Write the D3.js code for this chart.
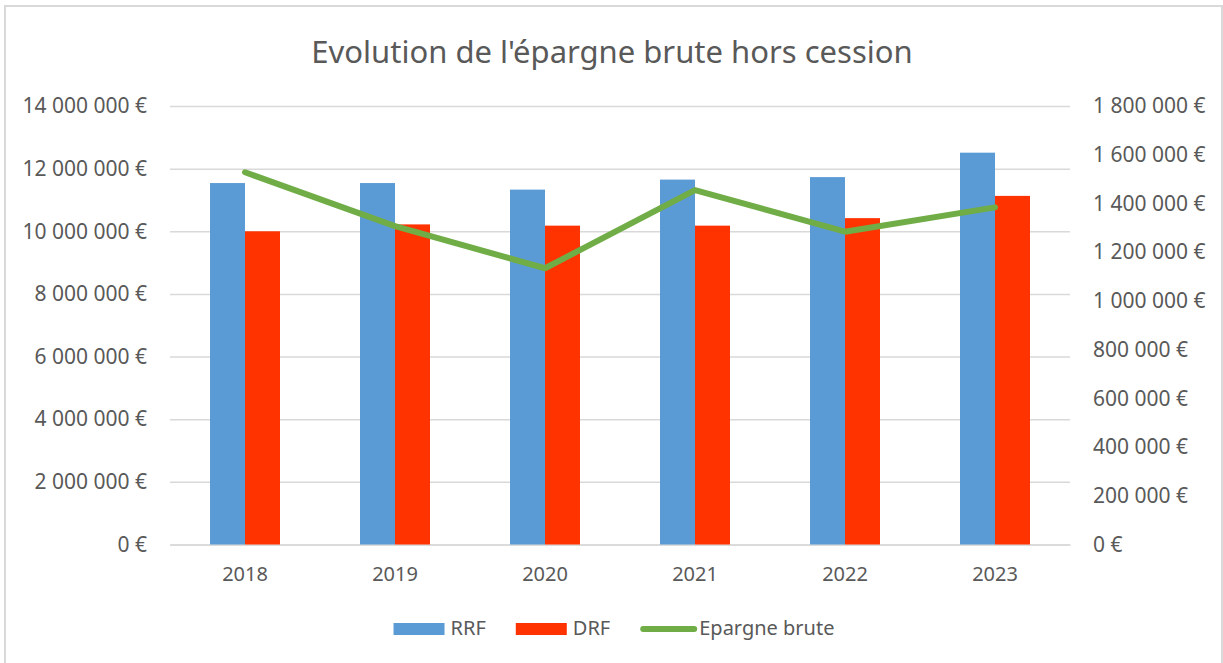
<!DOCTYPE html>
<html>
<head>
<meta charset="utf-8">
<script src="https://cdn.jsdelivr.net/npm/d3@7"></script>
<style>
  body { margin: 0; background: #fff; }
  svg text { font-family: "Noto Sans", sans-serif; fill: #595959; }
</style>
</head>
<body>
<svg id="chart"></svg>
<script>
// values
let years = ['2018', '2019', '2020', '2021', '2022', '2023']
let rrf = [11540000, 11540000, 11330000, 11650000, 11730000, 12510000]
let drf = [10000000, 10220000, 10180000, 10180000, 10420000, 11130000]
let epargne = [1528000, 1307000, 1134000, 1455000, 1284000, 1384000]
let leftTicks = [0, 2e6, 4e6, 6e6, 8e6, 10e6, 12e6, 14e6]
let rightTicks = [0, 2e5, 4e5, 6e5, 8e5, 1e6, 1.2e6, 1.4e6, 1.6e6, 1.8e6]

let width = 1223
let height = 663
let plotLeft = 170, plotRight = 1070, plotTop = 106, plotBottom = 544.5

let svg = d3.select('#chart').attr('width', width).attr('height', height)

let fr = d3.formatLocale({decimal: ',', thousands: '\u00a0', grouping: [3], currency: ['', '\u00a0€']})
let fmt = fr.format('$,.0f')

let xScale, x1, yLeft, yRight

function drawScale(){
    xScale = d3.scaleBand().domain(years).range([plotLeft, plotRight])
    x1 = d3.scaleBand().domain(['RRF', 'DRF']).range([0, 70])
    yLeft = d3.scaleLinear().domain([0, 14e6]).range([plotBottom, plotTop])
    yRight = d3.scaleLinear().domain([0, 1.8e6]).range([plotBottom, plotTop])
}

function drawFrame(){
    svg.append('rect').attr('x', 5).attr('y', 6).attr('width', 1217).attr('height', 670)
        .attr('fill', 'none').attr('stroke', '#d9d9d9').attr('stroke-width', 2)
    svg.append('text').attr('x', 612).attr('y', 63).attr('text-anchor', 'middle')
        .style('font-size', '31px').text("Evolution de l'épargne brute hors cession")
}

function drawAxis(){
    // gridlines
    svg.append('g').attr('class', 'grid').attr('transform', 'translate(' + plotLeft + ',0)')
        .call(d3.axisLeft(yLeft).tickValues(leftTicks).tickSize(-(plotRight - plotLeft)).tickFormat(''))
        .call(g => g.select('.domain').remove())
        .call(g => g.selectAll('line').attr('stroke', '#d9d9d9').attr('stroke-width', 1.5))

    let yAxisL = d3.axisLeft(yLeft).tickValues(leftTicks).tickSize(0).tickPadding(23).tickFormat(fmt)
    svg.append('g').attr('transform', 'translate(' + plotLeft + ',0)').call(yAxisL)
        .call(g => g.select('.domain').remove())
        .selectAll('text').style('font-size', '21px').attr('fill', '#595959')

    let yAxisR = d3.axisRight(yRight).tickValues(rightTicks).tickSize(0).tickPadding(23).tickFormat(fmt)
    svg.append('g').attr('transform', 'translate(' + plotRight + ',0)').call(yAxisR)
        .call(g => g.select('.domain').remove())
        .selectAll('text').style('font-size', '21px').attr('fill', '#595959')

    let xAxis = d3.axisBottom(xScale).tickSize(0).tickPadding(22)
    svg.append('g').attr('transform', 'translate(0,' + plotBottom + ')').call(xAxis)
        .call(g => g.select('.domain').attr('stroke', '#d9d9d9').attr('stroke-width', 1.5))
        .selectAll('text').style('font-size', '20px').attr('fill', '#595959')
}

function drawBars(){
    let off = (xScale.bandwidth() - 70) / 2
    svg.append('g').selectAll('rect.rrf').data(rrf).enter().append('rect')
        .attr('x', (d, i) => xScale(years[i]) + off + x1('RRF'))
        .attr('y', d => yLeft(d))
        .attr('width', x1.bandwidth())
        .attr('height', d => yLeft(0) - yLeft(d))
        .attr('fill', '#5b9bd5')
    svg.append('g').selectAll('rect.drf').data(drf).enter().append('rect')
        .attr('x', (d, i) => xScale(years[i]) + off + x1('DRF'))
        .attr('y', d => yLeft(d))
        .attr('width', x1.bandwidth())
        .attr('height', d => yLeft(0) - yLeft(d))
        .attr('fill', '#ff3300')
}

function drawLine(){
    let line = d3.line()
        .x((d, i) => xScale(years[i]) + xScale.bandwidth() / 2)
        .y(d => yRight(d))
    svg.append('path').datum(epargne).attr('d', line)
        .attr('fill', 'none').attr('stroke', '#70ad47').attr('stroke-width', 6)
        .attr('stroke-linecap', 'round').attr('stroke-linejoin', 'round')
}

function drawLegend(){
    let items = [
        {name: 'RRF', type: 'rect', color: '#5b9bd5'},
        {name: 'DRF', type: 'rect', color: '#ff3300'},
        {name: 'Epargne brute', type: 'line', color: '#70ad47'}
    ]
    let g = svg.append('g')
    let x = 0
    items.forEach(function(it, i){
        let ig = g.append('g').attr('transform', 'translate(' + x + ',0)')
        if (it.type === 'rect') {
            ig.append('rect').attr('x', 0).attr('y', -12).attr('width', 51).attr('height', 12).attr('fill', it.color)
        } else {
            ig.append('line').attr('x1', 3).attr('x2', 54).attr('y1', -6).attr('y2', -6)
                .attr('stroke', it.color).attr('stroke-width', 6).attr('stroke-linecap', 'round')
        }
        let t = ig.append('text').attr('x', it.type === 'rect' ? 57 : 59).attr('y', 0)
            .style('font-size', '20px').text(it.name)
        x += (it.type === 'rect' ? 57 : 59) + t.node().getComputedTextLength() + 30
    })
    let total = x - 30
    g.attr('transform', 'translate(' + (614 - total / 2) + ',635)')
}

drawScale()
drawFrame()
drawAxis()
drawBars()
drawLine()
drawLegend()
</script>
</body>
</html>
